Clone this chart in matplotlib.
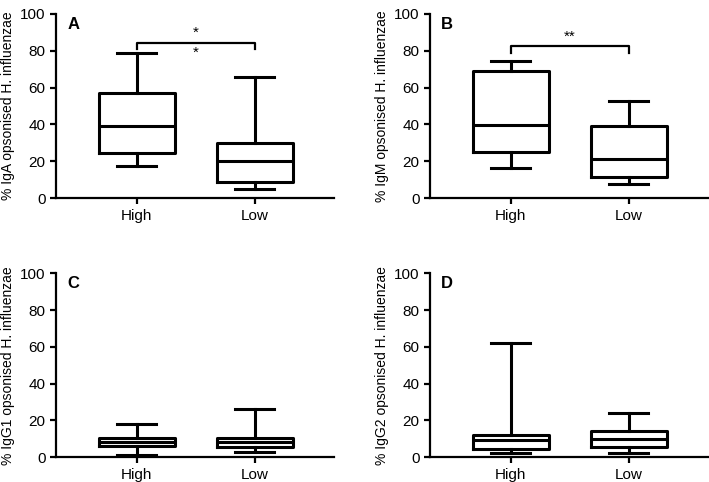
import numpy as np
import matplotlib
matplotlib.use("Agg")
import matplotlib.pyplot as plt

plt.rcParams['font.family'] = ['Liberation Sans', 'DejaVu Sans']

groups = ['High', 'Low']
panel_letters = ['A', 'B', 'C', 'D']
ylabels = ['% IgA opsonised H. influenzae', '% IgM opsonised H. influenzae',
           '% IgG1 opsonised H. influenzae', '% IgG2 opsonised H. influenzae']

# whislo, q1, med, q3, whishi for High / Low
iga_high = [17.4, 24.3, 39.0, 57.0, 79.0]
iga_low = [4.7, 8.9, 20.0, 29.7, 66.0]
igm_high = [16.4, 25.0, 39.8, 69.2, 74.7]
igm_low = [7.4, 11.4, 21.3, 39.0, 52.6]
igg1_high = [1.3, 6.3, 8.3, 10.3, 18.1]
igg1_low = [3.0, 5.8, 8.5, 10.7, 26.0]
igg2_high = [2.2, 4.3, 9.2, 12.1, 62.3]
igg2_low = [2.2, 5.4, 9.9, 14.5, 23.9]

panels = [(iga_high, iga_low), (igm_high, igm_low), (igg1_high, igg1_low), (igg2_high, igg2_low)]

# significance brackets: (bar height, tick drop, layout)
sig = {0: (84.4, 3.4, 'split'), 1: (82.5, 3.5, 'top')}

fig = plt.figure(figsize=(7.09, 4.82), dpi=100)
rects = [[0.079, 0.589, 0.392, 0.382], [0.6065, 0.589, 0.392, 0.382],
         [0.079, 0.0512, 0.392, 0.382], [0.6065, 0.0512, 0.392, 0.382]]

lw = 2.2
for i, (hi, lo) in enumerate(panels):
    ax = fig.add_axes(rects[i])
    stats = []
    for name, v in zip(groups, [hi, lo]):
        stats.append(dict(label=name, whislo=v[0], q1=v[1], med=v[2], q3=v[3], whishi=v[4]))
    ax.bxp(stats, positions=[1, 2], widths=0.65, showfliers=False,
           boxprops=dict(color='black', linewidth=lw),
           whiskerprops=dict(color='black', linewidth=lw),
           capprops=dict(color='black', linewidth=lw),
           medianprops=dict(color='black', linewidth=lw),
           capwidths=0.33)
    ax.set_xlim(0.314, 2.67)
    ax.set_ylim(0, 100)
    ax.set_yticks([0, 20, 40, 60, 80, 100])
    ax.spines['top'].set_visible(False)
    ax.spines['right'].set_visible(False)
    ax.spines['left'].set_linewidth(1.6)
    ax.spines['bottom'].set_linewidth(1.6)
    ax.tick_params(axis='both', width=1.6, length=4, labelsize=11, color='black')
    ax.set_ylabel(ylabels[i], fontsize=10, labelpad=4)
    ax.text(0.04, 0.985, panel_letters[i], transform=ax.transAxes, fontsize=12,
            fontweight='bold', va='top', ha='left')

    if i in sig:
        y, drop, mode = sig[i]
        ax.plot([1, 1, 2, 2], [y - drop, y, y, y - drop], color='black', linewidth=1.6,
                clip_on=False)
        if mode == 'split':
            ax.text(1.5, y + 1.5, '*', ha='center', va='bottom', fontsize=11)
            ax.text(1.5, y - 1.5, '*', ha='center', va='top', fontsize=11)
        else:
            ax.text(1.5, y + 1.5, '**', ha='center', va='bottom', fontsize=11)

fig.savefig('out.png', dpi=100)
